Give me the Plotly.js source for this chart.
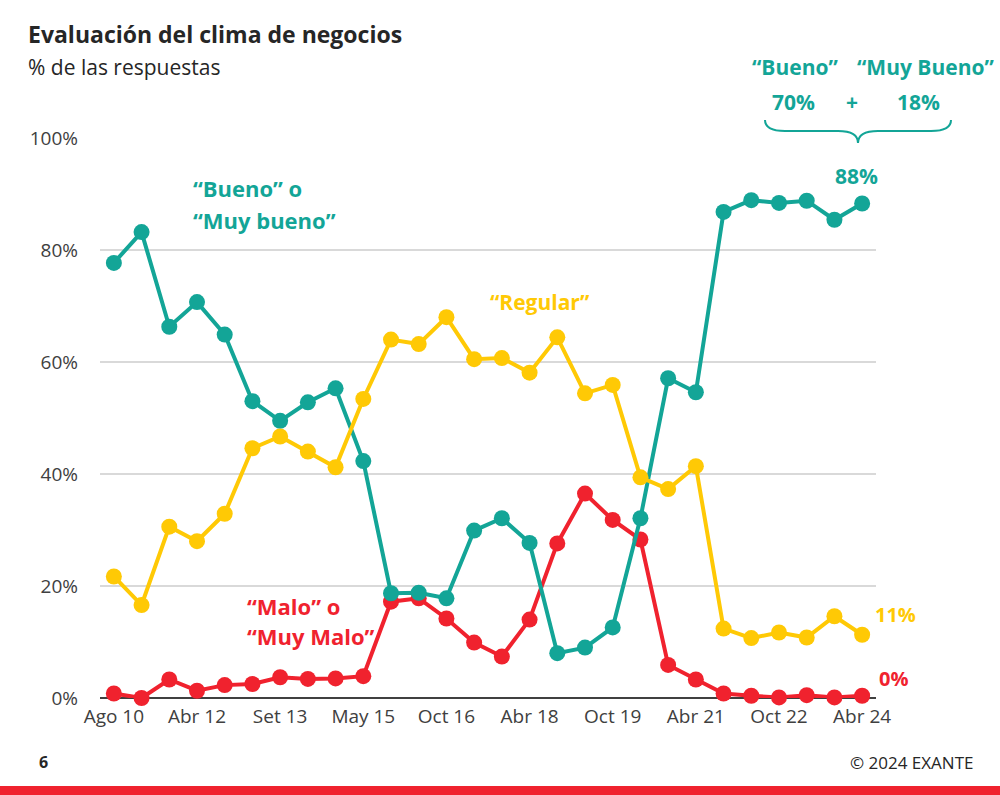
<!DOCTYPE html>
<html>
<head>
<meta charset="utf-8">
<script src="https://cdn.plot.ly/plotly-3.0.1.min.js"></script>
<style>html,body{margin:0;padding:0;background:#fff;}#chart{width:1000px;height:795px;}</style>
</head>
<body>
<div id="chart"></div>
<script>
// Survey rounds (index along the x-axis); labels shown every 3 rounds
const tickLabels = ["Ago 10","Abr 12","Set 13","May 15","Oct 16","Abr 18","Oct 19","Abr 21","Oct 22","Abr 24"];
const labelEvery = 3;

const buenoMuyBueno = [77.7,83.2,66.3,70.7,64.9,53.0,49.5,52.8,55.3,42.3,18.7,18.8,17.8,29.9,32.1,27.7,8.0,9.0,12.6,32.1,57.1,54.6,86.8,88.9,88.4,88.8,85.4,88.3];
const regular       = [21.7,16.6,30.6,28.0,32.9,44.6,46.7,44.0,41.2,53.4,64.0,63.2,68.0,60.5,60.7,58.1,64.4,54.4,55.9,39.4,37.3,41.4,12.4,10.7,11.7,10.8,14.6,11.3];
const maloMuyMalo   = [0.8,0.0,3.3,1.3,2.3,2.5,3.7,3.4,3.5,3.9,17.2,17.8,14.2,9.9,7.4,14.0,27.6,36.5,31.8,28.3,5.9,3.3,0.8,0.4,0.1,0.5,0.1,0.4];

const yTicks = [0,20,40,60,80,100];

const GREEN = "#13A597", YELLOW = "#FFC905", RED = "#F0222E";
const FONT = "'Open Sans', Lato, sans-serif";

const xs = buenoMuyBueno.map((_, i) => i);
const tickIdx = tickLabels.map((_, i) => i * labelEvery);

function series(vals, color) {
  return {
    x: xs, y: vals, type: "scatter", mode: "lines+markers",
    line: {color: color, width: 4},
    marker: {color: color, size: 16},
    cliponaxis: false, hoverinfo: "skip"
  };
}

const data = [series(maloMuyMalo, RED), series(buenoMuyBueno, GREEN), series(regular, YELLOW)];

// pixel -> paper helpers for decorations outside the plot
const L = 100, R = 876, T = 138, B = 698;
const px = v => (v - L) / (R - L);
const py = v => (B - v) / (B - T);

const bracePath = [
  "M", px(765), py(120),
  "Q", px(765), py(131), px(785), py(131),
  "L", px(838), py(131),
  "Q", px(858), py(131), px(858), py(143),
  "Q", px(858), py(131), px(878), py(131),
  "L", px(931), py(131),
  "Q", px(951), py(131), px(951), py(120)
].join(" ");

const last = xs.length - 1;

function ann(x, y, text, color, size, opts) {
  return Object.assign({x: x, y: y, xref: "x", yref: "y", text: text, showarrow: false,
    xanchor: "center", yanchor: "middle",
    font: {family: FONT, size: size, color: color, weight: "bold"}}, opts || {});
}
function pann(x, y, text, color, size, opts) {
  return Object.assign({x: px(x), y: py(y), xref: "paper", yref: "paper", text: text, showarrow: false,
    xanchor: "center", yanchor: "middle",
    font: {family: FONT, size: size, color: color, weight: "bold"}}, opts || {});
}
const plain = (size) => ({family: FONT, size: size, color: "#262626", weight: "normal"});

const layout = {
  width: 1000, height: 795,
  margin: {l: L, r: 1000 - R, t: T, b: 795 - B, pad: 0},
  paper_bgcolor: "#fff", plot_bgcolor: "#fff",
  showlegend: false, hovermode: false,
  xaxis: {
    range: [-0.5, 27.5], tickmode: "array", tickvals: tickIdx, ticktext: tickLabels,
    showgrid: false, zeroline: false, showline: false, ticks: "",
    tickfont: {family: FONT, size: 19, color: "#404040"}, ticklabelstandoff: 5, fixedrange: true
  },
  yaxis: {
    range: [0, 100], tickmode: "array", tickvals: yTicks, ticktext: yTicks.map(v => v + "%"),
    showgrid: true, gridcolor: "#D9D9D9", gridwidth: 1.5,
    zeroline: true, zerolinecolor: "#404040", zerolinewidth: 1.5,
    showline: false, ticks: "",
    tickfont: {family: FONT, size: 19, color: "#404040"}, ticklabelstandoff: 21, fixedrange: true
  },
  shapes: [
    {type: "path", xref: "paper", yref: "paper", path: bracePath, line: {color: GREEN, width: 2}},
    {type: "rect", xref: "paper", yref: "paper", x0: px(0), x1: px(1000), y0: py(786), y1: py(796),
     fillcolor: RED, line: {width: 0}}
  ],
  annotations: [
    pann(26, 34, "Evaluación del clima de negocios", "#262626", 23, {xanchor: "left"}),
    pann(26, 67, "% de las respuestas", "#262626", 21, {xanchor: "left", font: plain(21)}),
    pann(191, 188, "“Bueno” o", GREEN, 22, {xanchor: "left"}),
    pann(191, 220, "“Muy bueno”", GREEN, 22, {xanchor: "left"}),
    pann(540, 302, "“Regular”", YELLOW, 21),
    pann(245, 606, "“Malo” o", RED, 22, {xanchor: "left"}),
    pann(245, 636, "“Muy Malo”", RED, 22, {xanchor: "left"}),
    ann(last, buenoMuyBueno[last], "88%", GREEN, 21, {xshift: -6, yshift: 28}),
    ann(last, regular[last], "11%", YELLOW, 20, {xanchor: "left", xshift: 11, yshift: 20}),
    ann(last, maloMuyMalo[last], "0%", RED, 20, {xanchor: "left", xshift: 15, yshift: 17}),
    pann(795, 67, "“Bueno”", GREEN, 21),
    pann(925, 67, "“Muy Bueno”", GREEN, 21),
    pann(793, 102, "70%", GREEN, 21),
    pann(852, 102, "+", GREEN, 21),
    pann(918, 102, "18%", GREEN, 21),
    pann(37, 762, "6", "#262626", 16, {xanchor: "left"}),
    pann(975, 762, "© 2024 EXANTE", "#262626", 17, {xanchor: "right", font: plain(17)})
  ]
};

Plotly.newPlot("chart", data, layout, {displayModeBar: false, staticPlot: true});
</script>
</body>
</html>
